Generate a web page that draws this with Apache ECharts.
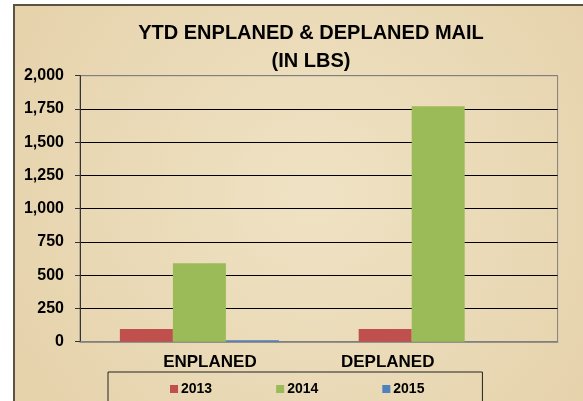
<!DOCTYPE html>
<html>
<head>
<meta charset="utf-8">
<script src="https://cdn.jsdelivr.net/npm/echarts@6/dist/echarts.min.js"></script>
<style>
html,body{margin:0;padding:0;background:#fff;}
#c{width:583px;height:401px;}
</style>
</head>
<body>
<div id="c"></div>
<script>
var categories = ['ENPLANED', 'DEPLANED'];
var seriesNames = ['2013', '2014', '2015'];
var values2013 = [95, 95];
var values2014 = [590, 1770];
var values2015 = [10, 0];
var yTicks = [0, 250, 500, 750, 1000, 1250, 1500, 1750, 2000];

var chart = echarts.init(document.getElementById('c'), null, {renderer: 'canvas'});
var FONT = 'Liberation Sans, Arial, sans-serif';
var option = {
  backgroundColor: '#ffffff',
  animation: false,
  color: ['#c0504d', '#9bbb59', '#4f81bd'],
  graphic: [
    {
      type: 'rect', z: -10, silent: true,
      shape: {x: 14, y: 5, width: 600, height: 420},
      style: {
        fill: {
          type: 'radial', x: 0.5, y: 0.45, r: 0.8,
          colorStops: [{offset: 0, color: '#efe2c4'}, {offset: 1, color: '#e6d3ac'}]
        },
        stroke: '#5b5244', lineWidth: 2
      }
    }
  ],
  title: {
    text: 'YTD ENPLANED & DEPLANED MAIL\n(IN LBS)',
    left: 311, top: 19, textAlign: 'center', padding: 0,
    textStyle: {fontFamily: FONT, fontWeight: 'bold', fontSize: 20, lineHeight: 28, color: '#000'}
  },
  legend: {
    data: seriesNames,
    left: 108, top: 372,
    padding: [10, 58, 30, 62],
    borderColor: '#222', borderWidth: 1,
    icon: 'rect', itemWidth: 8, itemHeight: 8, itemGap: 64,
    textStyle: {fontFamily: FONT, fontWeight: 'bold', fontSize: 14, color: '#000', padding: [0, 0, 0, -2]}
  },
  grid: {
    left: 80, right: 25.4, top: 75.7, bottom: 59.3,
    show: true, borderColor: '#808080', borderWidth: 1, backgroundColor: 'transparent'
  },
  xAxis: {
    type: 'category', data: categories,
    axisLine: {lineStyle: {color: '#808080', width: 1.5}},
    axisTick: {show: false},
    axisLabel: {
      margin: 12,
      formatter: function (v, i) { return i === 0 ? '{a|' + v + '}' : '{b|' + v + '}'; },
      rich: {
        a: {fontFamily: FONT, fontWeight: 'bold', fontSize: 17, color: '#000', padding: [0, 0, 0, 21]},
        b: {fontFamily: FONT, fontWeight: 'bold', fontSize: 17, color: '#000', padding: [0, 101, 0, 0]}
      }
    }
  },
  yAxis: {
    type: 'value', min: yTicks[0], max: yTicks[yTicks.length - 1], interval: yTicks[1] - yTicks[0],
    axisLine: {show: true, lineStyle: {color: '#333', width: 1}},
    axisTick: {show: true, length: 5, lineStyle: {color: '#333'}},
    axisLabel: {
      margin: 16, fontFamily: FONT, fontWeight: 'bold', fontSize: 16, color: '#000',
      formatter: function (v) { return v.toLocaleString('en-US'); }
    },
    splitLine: {lineStyle: {color: ['#808080', '#000', '#000', '#000', '#000', '#000', '#000', '#000', '#808080'], width: 1}}
  },
  series: [
    {name: seriesNames[0], type: 'bar', data: values2013, barGap: '0%', barCategoryGap: '33.4%'},
    {name: seriesNames[1], type: 'bar', data: values2014, barGap: '0%', barCategoryGap: '33.4%'},
    {name: seriesNames[2], type: 'bar', data: values2015, barGap: '0%', barCategoryGap: '33.4%'}
  ]
};
chart.setOption(option);
</script>
</body>
</html>
